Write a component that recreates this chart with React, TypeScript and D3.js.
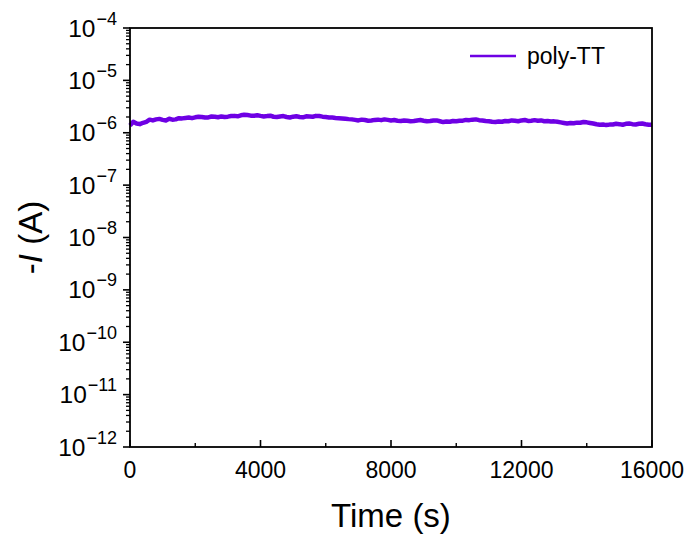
import React from "react";
import * as d3 from "d3";

// Time (s) of the sampled points
const times: number[] = [
  0, 100, 200, 300, 400, 500, 600, 700, 800, 900,
  1000, 1100, 1200, 1300, 1400, 1500, 1600, 1700, 1800, 1900,
  2000, 2100, 2200, 2300, 2400, 2500, 2600, 2700, 2800, 2900,
  3000, 3100, 3200, 3300, 3400, 3500, 3600, 3700, 3800, 3900,
  4000, 4100, 4200, 4300, 4400, 4500, 4600, 4700, 4800, 4900,
  5000, 5100, 5200, 5300, 5400, 5500, 5600, 5700, 5800, 5900,
  6000, 6100, 6200, 6300, 6400, 6500, 6600, 6700, 6800, 6900,
  7000, 7100, 7200, 7300, 7400, 7500, 7600, 7700, 7800, 7900,
  8000, 8100, 8200, 8300, 8400, 8500, 8600, 8700, 8800, 8900,
  9000, 9100, 9200, 9300, 9400, 9500, 9600, 9700, 9800, 9900,
  10000, 10100, 10200, 10300, 10400, 10500, 10600, 10700, 10800, 10900,
  11000, 11100, 11200, 11300, 11400, 11500, 11600, 11700, 11800, 11900,
  12000, 12100, 12200, 12300, 12400, 12500, 12600, 12700, 12800, 12900,
  13000, 13100, 13200, 13300, 13400, 13500, 13600, 13700, 13800, 13900,
  14000, 14100, 14200, 14300, 14400, 14500, 14600, 14700, 14800, 14900,
  15000, 15100, 15200, 15300, 15400, 15500, 15600, 15700, 15800, 15900,
  16000,
];
// -I in microamperes
const currentMicroA: number[] = [
  1.38, 1.62, 1.5, 1.46, 1.55, 1.62, 1.78, 1.72, 1.8, 1.84,
  1.76, 1.72, 1.85, 1.78, 1.8, 1.9, 1.88, 1.92, 1.95, 1.9,
  1.97, 2.02, 2.0, 1.95, 1.96, 2.04, 2.02, 1.98, 2.05, 2.0,
  2.03, 2.08, 2.1, 2.06, 2.15, 2.2, 2.18, 2.12, 2.12, 2.16,
  2.1, 2.05, 2.08, 2.12, 2.02, 2.0, 2.05, 2.08, 2.0, 1.96,
  2.03, 2.06, 2.0, 1.97, 2.06, 2.04, 2.02, 2.1, 2.08, 2.03,
  2.0, 1.96, 1.95, 1.92, 1.9, 1.88, 1.85, 1.82, 1.8, 1.76,
  1.72, 1.78, 1.75, 1.7, 1.72, 1.76, 1.78, 1.74, 1.8, 1.76,
  1.72, 1.75, 1.7, 1.68, 1.72, 1.7, 1.66, 1.68, 1.72, 1.75,
  1.7, 1.66, 1.68, 1.72, 1.72, 1.66, 1.6, 1.64, 1.62, 1.68,
  1.66, 1.7, 1.7, 1.76, 1.74, 1.78, 1.8, 1.74, 1.72, 1.68,
  1.66, 1.62, 1.6, 1.64, 1.62, 1.68, 1.66, 1.72, 1.7, 1.66,
  1.72, 1.75, 1.68, 1.7, 1.74, 1.7, 1.72, 1.66, 1.68, 1.64,
  1.65, 1.62, 1.58, 1.54, 1.5, 1.54, 1.52, 1.56, 1.55, 1.6,
  1.58, 1.54, 1.5, 1.45, 1.42, 1.44, 1.4, 1.43, 1.44, 1.48,
  1.46, 1.42, 1.48, 1.5, 1.46, 1.44, 1.48, 1.5, 1.45, 1.42,
  1.42,
];

const xTickValues: number[] = [0, 4000, 8000, 12000, 16000];
const xMinorValues: number[] = [2000, 6000, 10000, 14000];
const yExponents: number[] = [-12, -11, -10, -9, -8, -7, -6, -5, -4];
const seriesName = "poly-TT";
const xTitle = "Time (s)";

const W = 691;
const H = 538;
const L = 130, R = 652, T = 28, B = 447;
const FONT = "'Liberation Sans', Arial, sans-serif";
const COLOR = "#6e00e4";

export default function App() {
  const x = d3.scaleLinear().domain([0, 16000]).range([L, R]);
  const y = d3.scaleLog().domain([1e-12, 1e-4]).range([B, T]);
  const data = times.map((t, i) => ({ t, v: currentMicroA[i] * 1e-6 }));
  const line = d3
    .line<{ t: number; v: number }>()
    .x((d) => x(d.t))
    .y((d) => y(d.v));

  const minors: number[] = [];
  for (let e = -12; e < -4; e++) {
    for (let m = 2; m <= 9; m++) minors.push(m * Math.pow(10, e));
  }

  return (
    <svg
      width={W}
      height={H}
      style={{ position: "absolute", left: 0, top: 0, background: "#fff" }}
      fontFamily={FONT}
    >
      <rect x={0} y={0} width={W} height={H} fill="#fff" />
      {/* data line */}
      <path
        d={line(data) || ""}
        fill="none"
        stroke={COLOR}
        strokeWidth={4.5}
        strokeLinejoin="round"
      />
      {/* frame */}
      <rect x={L} y={T} width={R - L} height={B - T} fill="none" stroke="#000" strokeWidth={1.8} />
      {/* y ticks (outward) */}
      {yExponents.map((e) => (
        <line key={"ym" + e} x1={L - 7} x2={L} y1={y(Math.pow(10, e))} y2={y(Math.pow(10, e))} stroke="#000" strokeWidth={1.6} />
      ))}
      {minors.map((v, i) => (
        <line key={"yn" + i} x1={L - 4} x2={L} y1={y(v)} y2={y(v)} stroke="#000" strokeWidth={1.3} />
      ))}
      {yExponents.map((e) => (
        <text key={"yl" + e} x={L - 13} y={y(Math.pow(10, e)) + 8.5} textAnchor="end" fontSize={24.5} fill="#000">
          10
          <tspan fontSize={18} dx={1} dy={-12}>{"\u2212" + Math.abs(e)}</tspan>
        </text>
      ))}
      {/* x ticks (inward) */}
      {xTickValues.map((v) => (
        <line key={"xm" + v} x1={x(v)} x2={x(v)} y1={B} y2={B - 7} stroke="#000" strokeWidth={1.6} />
      ))}
      {xMinorValues.map((v) => (
        <line key={"xn" + v} x1={x(v)} x2={x(v)} y1={B} y2={B - 4} stroke="#000" strokeWidth={1.4} />
      ))}
      {xTickValues.map((v) => (
        <text key={"xl" + v} x={x(v)} y={478} textAnchor="middle" fontSize={23} fill="#000">
          {v}
        </text>
      ))}
      {/* axis titles */}
      <text x={(L + R) / 2} y={527} textAnchor="middle" fontSize={33} fill="#000">
        {xTitle}
      </text>
      <text
        transform={`translate(42, ${(T + B) / 2}) rotate(-90)`}
        textAnchor="middle"
        fontSize={33}
        fill="#000"
      >
        -<tspan fontStyle="italic">I</tspan> (A)
      </text>
      {/* legend */}
      <line x1={470} x2={516} y1={56} y2={56} stroke={COLOR} strokeWidth={2.5} />
      <text x={527} y={64} fontSize={23} fill="#000">
        {seriesName}
      </text>
    </svg>
  );
}
